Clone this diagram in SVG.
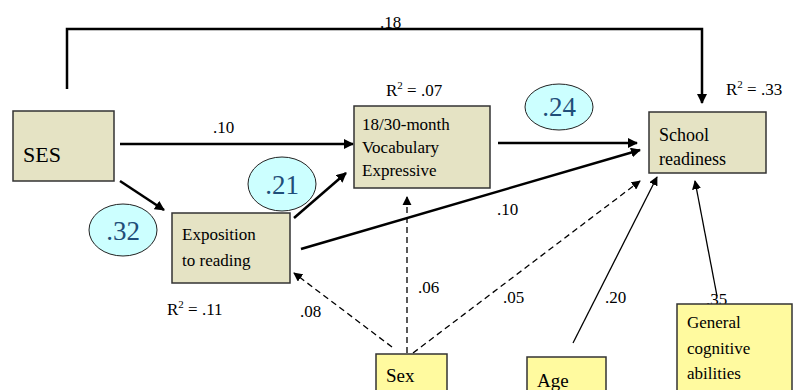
<svg xmlns="http://www.w3.org/2000/svg" width="809" height="390" viewBox="0 0 809 390">
<defs>
<marker id="ah" viewBox="0 0 10 10" refX="9" refY="5" markerWidth="4" markerHeight="4" orient="auto" markerUnits="strokeWidth"><path d="M0,0 L10,5 L0,10 z" fill="#000"/></marker>
<marker id="ahs" viewBox="0 0 10 10" refX="9" refY="5" markerWidth="7" markerHeight="7" orient="auto" markerUnits="strokeWidth"><path d="M0,0 L10,5 L0,10 z" fill="#000"/></marker>
<style>
.box{fill:#E5E3C4;stroke:#333;stroke-width:1.5}
.ybox{fill:#FFFA9F;stroke:#333;stroke-width:1.5}
.ell{fill:#CCFFFF;stroke:#222;stroke-width:1}
.thick{stroke:#000;stroke-width:2.5;fill:none;marker-end:url(#ah)}
.thin{stroke:#000;stroke-width:1.3;fill:none;marker-end:url(#ahs)}
.dash{stroke:#000;stroke-width:1.3;fill:none;stroke-dasharray:6,4;marker-end:url(#ahs)}
</style>
</defs>
<g id="connectors">
<path class="thick" d="M67,89 V29 H702 V103"/>
<line class="thick" x1="120" y1="144" x2="353" y2="144"/>
<line class="thick" x1="498" y1="143" x2="637" y2="143"/>
<line class="thick" x1="120" y1="181" x2="164" y2="210"/>
<line class="thick" x1="294" y1="218" x2="346" y2="173"/>
<line class="thick" x1="301" y1="249" x2="640" y2="150"/>
<line class="dash" x1="392" y1="347" x2="294" y2="273"/>
<line class="dash" x1="407" y1="353" x2="407" y2="197"/>
<line class="dash" x1="413" y1="353" x2="640" y2="181"/>
<line class="thin" x1="573" y1="343" x2="657" y2="177"/>
<line class="thin" x1="717" y1="296" x2="695" y2="181"/>
<text style="font-family:'Liberation Serif',serif;font-size:17px" x="380" y="28">.18</text>
<text style="font-family:'Liberation Serif',serif;font-size:17px" x="213" y="133">.10</text>
<text style="font-family:'Liberation Serif',serif;font-size:17px" x="497" y="215">.10</text>
<text style="font-family:'Liberation Serif',serif;font-size:17px" x="300" y="317">.08</text>
<text style="font-family:'Liberation Serif',serif;font-size:17px" x="418" y="293">.06</text>
<text style="font-family:'Liberation Serif',serif;font-size:17px" x="503" y="303">.05</text>
<text style="font-family:'Liberation Serif',serif;font-size:17px" x="605" y="303">.20</text>
<text style="font-family:'Liberation Serif',serif;font-size:17px" x="706" y="305">.35</text>
</g>
<g id="r2">
<text style="font-family:'Liberation Serif',serif;font-size:17px" x="386" y="96">R<tspan font-size="11" dy="-7">2</tspan><tspan dy="7"> = .07</tspan></text>
<text style="font-family:'Liberation Serif',serif;font-size:17px" x="726" y="95">R<tspan font-size="11" dy="-7">2</tspan><tspan dy="7"> = .33</tspan></text>
<text style="font-family:'Liberation Serif',serif;font-size:17px" x="167" y="315">R<tspan font-size="11" dy="-7">2</tspan><tspan dy="7"> = .11</tspan></text>
</g>
<g id="e24"><ellipse class="ell" cx="559" cy="107" rx="34" ry="23"/><text style="font-family:'Liberation Serif',serif;font-size:27px;fill:#1F4E79" x="559" y="116" text-anchor="middle">.24</text></g>
<g id="e21"><ellipse class="ell" cx="282" cy="184" rx="34" ry="27"/><text style="font-family:'Liberation Serif',serif;font-size:27px;fill:#1F4E79" x="282" y="194" text-anchor="middle">.21</text></g>
<g id="e32"><ellipse class="ell" cx="123" cy="230" rx="34" ry="26"/><text style="font-family:'Liberation Serif',serif;font-size:27px;fill:#1F4E79" x="123" y="240" text-anchor="middle">.32</text></g>
<g id="ses"><rect class="box" x="13" y="111" width="101" height="70"/><text style="font-family:'Liberation Serif',serif;font-size:22px" x="23" y="162">SES</text></g>
<g id="vocab"><rect class="box" x="354" y="106" width="136" height="82"/>
<text style="font-family:'Liberation Serif',serif;font-size:17px" x="362" y="130">18/30-month</text><text style="font-family:'Liberation Serif',serif;font-size:17px" x="362" y="153">Vocabulary</text><text style="font-family:'Liberation Serif',serif;font-size:17px" x="362" y="176">Expressive</text></g>
<g id="school"><rect class="box" x="649" y="112" width="117" height="61"/>
<text style="font-family:'Liberation Serif',serif;font-size:18px" x="659" y="141">School</text><text style="font-family:'Liberation Serif',serif;font-size:18px" x="659" y="165">readiness</text></g>
<g id="expo"><rect class="box" x="172" y="213" width="118" height="70"/>
<text style="font-family:'Liberation Serif',serif;font-size:17px" x="182" y="240">Exposition</text><text style="font-family:'Liberation Serif',serif;font-size:17px" x="182" y="266">to reading</text></g>
<g id="sex"><rect class="ybox" x="376" y="354" width="71" height="45"/><text style="font-family:'Liberation Serif',serif;font-size:19px" x="386" y="382">Sex</text></g>
<g id="age"><rect class="ybox" x="527" y="357" width="79" height="45"/><text style="font-family:'Liberation Serif',serif;font-size:19px" x="537" y="387">Age</text></g>
<g id="gca"><rect class="ybox" x="677" y="304" width="115" height="95"/>
<text style="font-family:'Liberation Serif',serif;font-size:17px" x="687" y="328">General</text><text style="font-family:'Liberation Serif',serif;font-size:17px" x="687" y="354">cognitive</text><text style="font-family:'Liberation Serif',serif;font-size:17px" x="687" y="379">abilities</text></g>
</svg>
